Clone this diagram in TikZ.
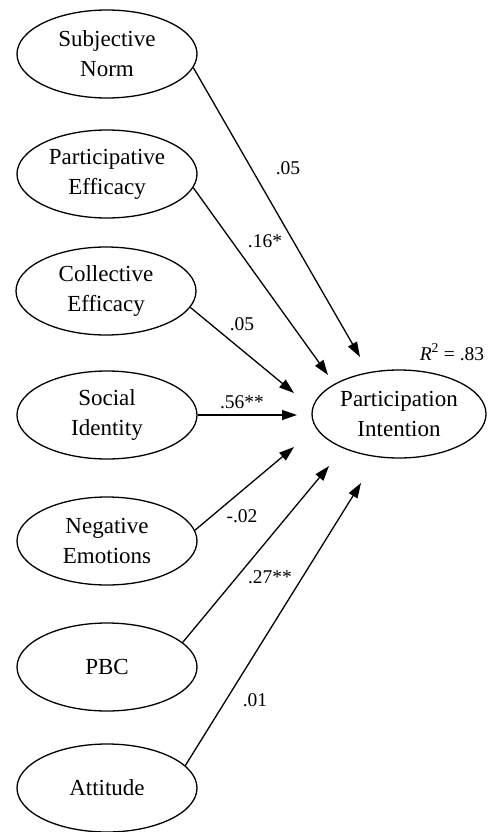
\documentclass[tikz,border=0pt]{standalone}
\usepackage{fontspec}
\setmainfont{Liberation Serif}
\usetikzlibrary{shapes.geometric,arrows.meta}

\begin{document}
\begin{tikzpicture}[x=1pt,y=-1pt,>={Triangle[length=15pt,width=10pt]},
    latent/.style={ellipse, draw, line width=1.3pt, inner sep=0pt,
        minimum width=180pt, minimum height=88pt, align=center,
        font=\fontsize{23}{30}\selectfont},
    effect/.style={->, line width=1.3pt},
    lbl/.style={font=\fontsize{19.5}{22}\selectfont}]

  \useasboundingbox (0,0) rectangle (488,832);

  % ---- predictors, left column ----
  \node[latent] (sn)  at (107,54)  {Subjective\\Norm};
  \node[latent] (pe)  at (107,174) {Participative\\Efficacy};
  \node[latent] (ce)  at (106,291) {Collective\\Efficacy};
  \node[latent] (si)  at (107,415) {Social\\Identity};
  \node[latent] (ne)  at (107,541) {Negative\\Emotions};
  \node[latent] (pbc) at (107,667) {PBC};
  \node[latent] (att) at (107,788) {Attitude};

  % ---- outcome ----
  \node[latent, minimum width=174pt] (pi) at (399,414)
      {Participation\\Intention};
  \node[lbl] (r2) at (452,352) {\textit{R}\textsuperscript{2} = .83};

  % ---- arrow ends, short of the outcome ----
  \coordinate (snT)  at (360,357);
  \coordinate (peT)  at (328,375);
  \coordinate (ceT)  at (294,393);
  \coordinate (siT)  at (297,415);
  \coordinate (neT)  at (294,447);
  \coordinate (pbcT) at (329,466);
  \coordinate (attT) at (361,483);

  % ---- paths ----
  \draw[effect] (sn.-9)   -- (snT);
  \draw[effect] (pe.-9)   -- (peT);
  \draw[effect] (ce.-11)  -- (ceT);
  \draw[effect] (si.east) -- (siT);
  \draw[effect] (ne.7)    -- (neT);
  \draw[effect] (pbc.18)  -- (pbcT);
  \draw[effect] (att.16)  -- (attT);

  % ---- coefficients ----
  \node[lbl] (cSn)  at (288,168) {.05};
  \node[lbl] (cPe)  at (265,241) {.16*};
  \node[lbl] (cCe)  at (242,324) {.05};
  \node[lbl] (cSi)  at (242,402) {.56**};
  \node[lbl] (cNe)  at (242,516) {-.02};
  \node[lbl] (cPbc) at (270,577) {.27**};
  \node[lbl] (cAtt) at (255,700) {.01};

\end{tikzpicture}
\end{document}
